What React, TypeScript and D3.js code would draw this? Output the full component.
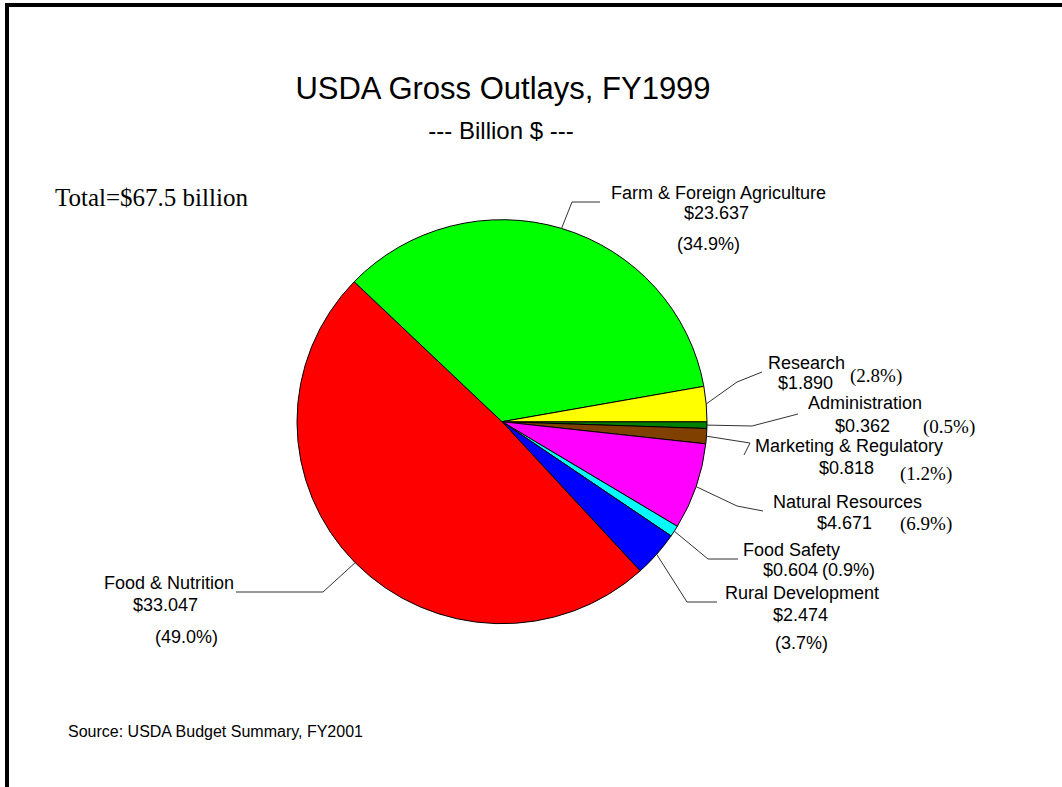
import * as d3 from "d3";

// slices in drawing order, clockwise from 3 o'clock
const categories = [
	"Administration",
	"Marketing & Regulatory",
	"Natural Resources",
	"Food Safety",
	"Rural Development",
	"Food & Nutrition",
	"Farm & Foreign Agriculture",
	"Research",
];
const outlays = [0.362, 0.818, 4.671, 0.604, 2.474, 33.047, 23.637, 1.89];
const percentLabels = ["0.5", "1.2", "6.9", "0.9", "3.7", "49.0", "34.9", "2.8"];
const colors = ["#008000", "#804000", "#FF00FF", "#00FFFF", "#0000FF", "#FF0000", "#00FF00", "#FFFF00"];

// label placement (start anchored, y is text middle)
interface LabelPos {
	elbow: [number, number];
	end: [number, number];
	name: [number, number];
	value: [number, number];
	pct: [number, number];
	serif: boolean;
}
const labelPos: LabelPos[] = [
	{ elbow: [752, 426], end: [798, 414], name: [808, 403], value: [835, 426], pct: [923, 426], serif: true },
	{ elbow: [750, 443], end: [744, 455], name: [755, 446], value: [819, 468], pct: [900, 473], serif: true },
	{ elbow: [737, 506], end: [763, 511], name: [773, 502], value: [817, 523], pct: [900, 523], serif: true },
	{ elbow: [708, 559], end: [738, 559], name: [743, 550], value: [763, 570], pct: [822, 570], serif: false },
	{ elbow: [687, 602], end: [717, 602], name: [725, 593], value: [773, 615], pct: [775, 643], serif: false },
	{ elbow: [323, 592], end: [236, 592], name: [104, 583], value: [133, 605], pct: [155, 637], serif: false },
	{ elbow: [572, 202], end: [600, 202], name: [611, 193], value: [684, 213], pct: [677, 244], serif: false },
	{ elbow: [737, 382], end: [762, 372], name: [768, 363], value: [778, 383], pct: [850, 375], serif: true },
];

const width = 1062;
const height = 787;
const cx = 502;
const cy = 421.7;
const radius = 205;
const squash = 202 / 205;
const sans = "'Liberation Sans', Arial, sans-serif";
const serif = "'Liberation Serif', 'Times New Roman', serif";

export default function App() {
	const pie = d3
		.pie<number>()
		.sort(null)
		.value((d) => d)
		.startAngle(Math.PI / 2)
		.endAngle(Math.PI / 2 + 2 * Math.PI);
	const arcs = pie(outlays);
	const arc = d3.arc<d3.PieArcDatum<number>>().innerRadius(0).outerRadius(radius);

	const edgePoint = (d: d3.PieArcDatum<number>): [number, number] => {
		const a = (d.startAngle + d.endAngle) / 2;
		return [cx + radius * Math.sin(a), cy - radius * Math.cos(a) * squash];
	};

	return (
		<div style={{ position: "absolute", left: 0, top: 0 }}>
			<svg width={width} height={height} style={{ display: "block", background: "white" }}>
				{/* frame */}
				<line x1={5} y1={5} x2={width} y2={5} stroke="black" strokeWidth={4} />
				<line x1={7} y1={3} x2={7} y2={height} stroke="black" strokeWidth={4} />

				<text x={503} y={88} textAnchor="middle" dominantBaseline="central" fontFamily={sans} fontSize={31}>
					USDA Gross Outlays, FY1999
				</text>
				<text x={501} y={130} textAnchor="middle" dominantBaseline="central" fontFamily={sans} fontSize={24}>
					--- Billion $ ---
				</text>
				<text x={55} y={197} dominantBaseline="central" fontFamily={serif} fontSize={25}>
					Total=$67.5 billion
				</text>

				<g transform={`translate(${cx},${cy}) scale(1,${squash})`}>
					{arcs.map((d, i) => (
						<path key={i} d={arc(d) ?? ""} fill={colors[i]} stroke="black" strokeWidth={1} />
					))}
				</g>

				{arcs.map((d, i) => {
					const p = labelPos[i];
					const s = edgePoint(d);
					return (
						<g key={i} fontFamily={sans} fontSize={18} dominantBaseline="central">
							<polyline
								points={[s, p.elbow, p.end].map((q) => q.join(",")).join(" ")}
								fill="none"
								stroke="#333"
								strokeWidth={1}
							/>
							<text x={p.name[0]} y={p.name[1]}>{categories[i]}</text>
							<text x={p.value[0]} y={p.value[1]}>{"$" + outlays[i].toFixed(3)}</text>
							<text x={p.pct[0]} y={p.pct[1]} fontFamily={p.serif ? serif : sans} fontSize={p.serif ? 19 : 18}>
								{"(" + percentLabels[i] + "%)"}
							</text>
						</g>
					);
				})}

				<text x={68} y={731} dominantBaseline="central" fontFamily={sans} fontSize={16}>
					Source: USDA Budget Summary, FY2001
				</text>
			</svg>
		</div>
	);
}
